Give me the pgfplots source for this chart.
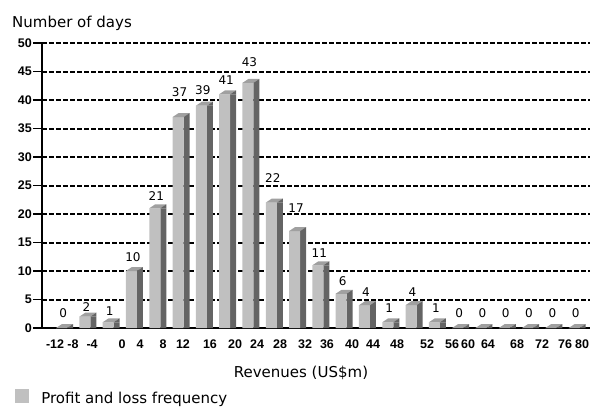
\documentclass[border=0pt]{standalone}
\usepackage{fontspec}
\setmainfont{DejaVu Sans}
\newfontfamily\tickfont{Liberation Sans}
\usepackage{pgfplots}
\usepackage{pgfplotstable}
\pgfplotsset{compat=1.18}

\definecolor{barfront}{HTML}{C0C0C0}
\definecolor{barside}{HTML}{646464}
\definecolor{bartopc}{HTML}{A0A0A0}

% top face + upper corner of the side face, drawn at each bar top
\pgfdeclareplotmark{barcap}{%
  \pgfpathmoveto{\pgfpoint{-5.5pt}{0pt}}%
  \pgfpathlineto{\pgfpoint{5.5pt}{0pt}}%
  \pgfpathlineto{\pgfpoint{11.5pt}{4pt}}%
  \pgfpathlineto{\pgfpoint{0.5pt}{4pt}}%
  \pgfpathclose
  \pgfsetfillcolor{bartopc}%
  \pgfusepath{fill}%
  \pgfpathmoveto{\pgfpoint{5.5pt}{0pt}}%
  \pgfpathlineto{\pgfpoint{11.5pt}{4pt}}%
  \pgfpathlineto{\pgfpoint{11.5pt}{0pt}}%
  \pgfpathclose
  \pgfsetfillcolor{barside}%
  \pgfusepath{fill}%
}

% gap = distance (pt) from bar top to its value label, as in the original
\pgfplotstableread{
x y gap
0 0 10
1 2 5
2 1 7
3 10 9.5
4 21 8
5 37 20
6 39 10.5
7 41 9.5
8 43 16
9 22 20
10 17 18
11 11 8
12 6 8
13 4 8.5
14 1 10
15 4 8.5
16 1 10
17 0 10
18 0 10
19 0 10
20 0 10
21 0 10
22 0 10
}\freq

\begin{document}
\begin{tikzpicture}
\path[use as bounding box] (0,0) rectangle (592pt,407pt);
\begin{axis}[
  at={(42pt,79pt)}, anchor=south west,
  scale only axis, width=548pt, height=285pt,
  xmin=-0.84, xmax=22.68, ymin=0, ymax=50,
  axis lines=left,
  axis line style={-, line width=1.8pt},
  ytick={0,5,...,50},
  xtick={-0.28,0.49,1.31,2.60,3.37,4.36,5.21,6.37,7.45,8.39,9.38,10.45,11.39,12.47,13.37,14.40,15.69,16.76,17.45,18.30,19.55,20.62,21.61,22.34},
  xticklabels={-12,-8,-4,0,4,8,12,16,20,24,28,32,36,40,44,48,52,56,60,64,68,72,76,80},
  ymajorgrids,
  grid style={black, line width=2pt, dash pattern=on 5pt off 2pt},
  tick align=outside,
  major tick length=9pt,
  ytick style={black, line width=1.8pt},
  xtick style={draw=none},
  ticklabel style={font=\tickfont\bfseries\fontsize{12.5}{14}\selectfont},
  yticklabel style={/pgf/number format/assume math mode=true, inner sep=1pt},
  xticklabel style={anchor=base, yshift=-11pt},
  title={Number of days},
  every axis title/.style={at={(axis description cs:-0.0547,1.0561)}, anchor=base west, inner sep=0pt, font=\fontsize{15}{17}\selectfont},
  xlabel={Revenues (US\$m)},
  xlabel style={at={(axis description cs:0.4726,-0.173)}, anchor=base, inner sep=0pt, font=\fontsize{15}{17}\selectfont},
  legend style={draw=none, fill=none, at={(axis description cs:-0.049,-0.245)}, anchor=west, inner sep=0pt,
    font=\fontsize{15}{17}\selectfont,
    /tikz/every odd column/.append style={column sep=10pt}},
  clip=false,
]
\addplot[ybar, bar width=6pt, bar shift=8.5pt, fill=barside, draw=none, forget plot] table[x=x, y=y] {\freq};
\addplot[ybar, bar width=11pt, bar shift=0pt, fill=barfront, draw=none,
  legend image code/.code={\fill[barfront] (0pt,-4pt) rectangle (14pt,10pt);},
  visualization depends on={\thisrow{gap} \as \labgap},
  nodes near coords={\pgfmathprintnumber[assume math mode=true]{\pgfplotspointmeta}},
  every node near coord/.append style={font=\fontsize{12}{14}\selectfont, text=black, anchor=south, inner sep=0pt, yshift=\labgap pt, xshift=1.5pt}]
  table[x=x, y=y] {\freq};
\addlegendentry{Profit and loss frequency}
\addplot[only marks, mark=barcap, forget plot] table[x=x, y=y] {\freq};
\end{axis}
\end{tikzpicture}
\end{document}
